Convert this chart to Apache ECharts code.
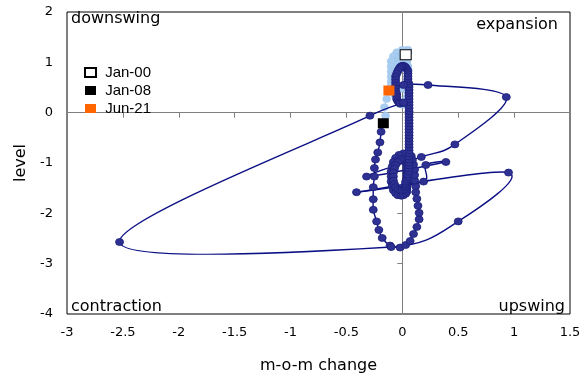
<!DOCTYPE html>
<html><head><meta charset="utf-8">
<script src="https://cdn.jsdelivr.net/npm/echarts@6/dist/echarts.min.js"></script>
<style>html,body{margin:0;padding:0;background:#fff}#c{width:587px;height:379px}</style>
</head><body><div id="c"></div>
<script>
// ---- axis ranges ----
const xMin = -3, xMax = 1.5, xStep = 0.5;
const yMin = -4, yMax = 2, yStep = 1;
const xTitle = 'm-o-m change';
const yTitle = 'level';
const quadrantLabels = ['downswing', 'expansion', 'contraction', 'upswing'];

// ---- Jan-00 .. Dec-07 (light blue) ----
const lightX = [
  0.03,0.05,0.05,0.00,-0.05,-0.08,-0.10,-0.10,-0.10,-0.10,-0.10,-0.10,
  -0.08,-0.07,-0.06,-0.05,-0.04,-0.03,-0.02,-0.01,0.00,0.01,0.02,0.03,
  0.04,0.04,0.05,0.05,0.04,0.03,0.02,0.01,0.00,-0.01,-0.01,0.00,
  0.01,0.02,0.03,0.04,0.04,0.05,0.05,0.05,0.05,0.05,0.05,0.04,
  0.04,0.04,0.04,0.03,0.02,0.01,-0.01,-0.02,-0.03,-0.03,-0.03,-0.02,
  -0.02,-0.02,-0.02,-0.01,0.00,0.01,0.02,0.02,0.02,0.02,0.02,0.02,
  0.02,0.02,0.02,0.01,0.00,-0.01,-0.02,-0.03,-0.03,-0.03,-0.03,-0.03,
  -0.03,-0.03,-0.03,-0.04,-0.05,-0.06,-0.08,-0.10,-0.12,-0.14,-0.16,-0.15
];
const lightY = [
  1.15,1.20,1.25,1.25,1.20,1.12,1.02,0.92,0.82,0.72,0.62,0.52,
  0.44,0.37,0.31,0.26,0.22,0.19,0.17,0.16,0.16,0.17,0.19,0.22,
  0.26,0.30,0.35,0.40,0.44,0.47,0.49,0.50,0.50,0.49,0.48,0.48,
  0.49,0.51,0.54,0.58,0.62,0.67,0.72,0.77,0.82,0.87,0.92,0.96,
  1.00,1.04,1.08,1.11,1.13,1.14,1.13,1.11,1.08,1.05,1.02,1.00,
  0.98,0.96,0.94,0.93,0.93,0.94,0.96,0.98,1.00,1.02,1.04,1.06,
  1.08,1.10,1.12,1.13,1.13,1.12,1.10,1.07,1.04,1.01,0.98,0.95,
  0.92,0.89,0.86,0.82,0.77,0.71,0.63,0.53,0.41,0.27,0.11,-0.06
];

// ---- Jan-08 .. Jun-21 (dark blue) ----
const darkX = [
  -0.17,-0.19,-0.20,-0.22,-0.24,-0.25,-0.25,-0.26,-0.26,-0.26,-0.23,-0.21,
  -0.18,-0.11,-0.02,0.03,0.07,0.10,0.13,0.15,0.15,0.14,0.13,0.12,
  0.12,0.11,0.11,0.11,0.10,0.09,0.08,0.05,0.01,-0.03,-0.06,-0.08,
  -0.09,-0.10,-0.10,-0.10,-0.09,-0.08,-0.06,-0.04,-0.01,0.01,0.03,0.04,
  0.04,0.04,0.04,0.04,0.04,0.04,0.04,0.04,0.04,0.04,0.04,0.04,
  0.04,0.04,0.03,0.03,0.02,0.00,-0.02,-0.04,-0.06,-0.07,-0.08,-0.08,
  -0.08,-0.07,-0.06,-0.04,-0.02,0.00,0.02,0.03,0.03,0.03,0.03,0.03,
  0.04,0.05,0.05,0.06,0.06,0.06,0.06,0.06,0.06,0.06,0.06,0.06,
  0.06,0.06,0.06,0.06,0.06,0.06,0.06,0.06,0.06,0.06,0.06,0.06,
  0.06,0.06,0.06,0.06,0.06,0.06,0.06,0.06,0.06,0.05,0.05,0.05,
  0.05,0.05,0.04,0.03,0.02,0.01,0.00,-0.01,-0.02,-0.03,-0.04,-0.05,
  -0.06,-0.06,-0.06,-0.06,-0.06,-0.06,-0.05,-0.05,-0.05,-0.04,-0.03,-0.02,
  0.01,0.01,-0.29,-2.53,-0.10,0.50,0.95,-0.41,0.19,0.21,0.39,-0.32,
  0.17,0.47,0.93,0.23,0.01,-0.12
];
const darkY = [
  -0.21,-0.38,-0.59,-0.79,-0.93,-1.10,-1.27,-1.48,-1.72,-1.93,-2.16,-2.33,
  -2.49,-2.64,-2.68,-2.63,-2.55,-2.41,-2.27,-2.12,-1.99,-1.85,-1.71,-1.58,
  -1.46,-1.35,-1.24,-1.13,-1.03,-0.94,-0.86,-0.82,-0.81,-0.84,-0.90,-0.98,
  -1.07,-1.17,-1.27,-1.37,-1.46,-1.54,-1.60,-1.64,-1.65,-1.64,-1.61,-1.57,
  -1.53,-1.49,-1.45,-1.41,-1.37,-1.33,-1.29,-1.25,-1.21,-1.17,-1.13,-1.09,
  -1.05,-1.01,-0.98,-0.95,-0.93,-0.92,-0.94,-0.98,-1.04,-1.11,-1.19,-1.27,
  -1.35,-1.42,-1.48,-1.52,-1.54,-1.54,-1.52,-1.49,-1.46,-1.43,-1.40,-1.37,
  -1.33,-1.28,-1.23,-1.17,-1.11,-1.05,-0.99,-0.93,-0.87,-0.81,-0.75,-0.69,
  -0.63,-0.57,-0.51,-0.45,-0.39,-0.33,-0.27,-0.21,-0.15,-0.09,-0.03,0.03,
  0.09,0.15,0.21,0.27,0.33,0.39,0.45,0.51,0.57,0.62,0.67,0.72,
  0.78,0.83,0.87,0.90,0.92,0.93,0.93,0.92,0.90,0.87,0.83,0.78,
  0.72,0.66,0.60,0.54,0.48,0.42,0.37,0.32,0.27,0.23,0.20,0.18,
  0.19,0.20,-0.06,-2.57,-2.67,-2.16,-1.19,-1.58,-1.37,-1.04,-0.98,-1.27,
  -0.88,-0.63,0.31,0.55,0.55,0.44
];

// ---- highlighted months ----
const markNames = ['Jan-00', 'Jan-08', 'Jun-21'];
const markX = [0.03, -0.17, -0.12];
const markY = [1.15, -0.21, 0.44];
const markFill = ['#ffffff', '#000000', '#ff6600'];

const pairs = (xs, ys) => xs.map((v, i) => [v, ys[i]]);

// Smoothed connecting line (spreadsheet-style Bezier), positions via the chart's own scales (api.coord)
function smoothLine(name, xs, ys, color, width, z) {
  const n = xs.length;
  return {
    name, type: 'custom', z, silent: true, clip: true,
    data: pairs(xs, ys), encode: {x: 0, y: 1},
    renderItem: (params, api) => {
      const i = params.dataIndex;
      if (i >= n - 1) return null;
      const P = j => { const k = Math.max(0, Math.min(n - 1, j)); return api.coord([xs[k], ys[k]]); };
      const p0 = P(i - 1), p1 = P(i), p2 = P(i + 1), p3 = P(i + 2);
      const d12 = Math.hypot(p2[0] - p1[0], p2[1] - p1[1]);
      const a = [p2[0] - p0[0], p2[1] - p0[1]], la = Math.hypot(a[0], a[1]);
      const b = [p3[0] - p1[0], p3[1] - p1[1]], lb = Math.hypot(b[0], b[1]);
      const fa = la / 6 > d12 / 2 ? d12 / 2 / la : 1 / 6;
      const fb = lb / 6 > d12 / 2 ? d12 / 2 / lb : 1 / 6;
      return {
        type: 'bezierCurve',
        shape: {x1: p1[0], y1: p1[1], x2: p2[0], y2: p2[1],
                cpx1: p1[0] + a[0] * fa, cpy1: p1[1] + a[1] * fa,
                cpx2: p2[0] - b[0] * fb, cpy2: p2[1] - b[1] * fb},
        style: {stroke: color, lineWidth: width, fill: null}
      };
    }
  };
}

const chart = echarts.init(document.getElementById('c'), null, {renderer: 'canvas'});
const tickFont = {fontFamily: 'DejaVu Sans', fontSize: 13, color: '#000'};

const markSeries = markNames.map((n, i) => ({
  name: n, type: 'scatter', symbol: 'rect', symbolSize: [11, 10], z: 6,
  itemStyle: {color: markFill[i], borderColor: i === 0 ? '#000' : markFill[i], borderWidth: i === 0 ? 1 : 0, opacity: 1},
  data: [[markX[i], markY[i]]]
}));

chart.setOption({
  animation: false,
  backgroundColor: '#fff',
  grid: {left: 67, top: 12, right: 17, bottom: 57, show: true, borderColor: '#000', borderWidth: 1, backgroundColor: 'transparent'},
  legend: {
    data: markNames, orient: 'vertical', left: 79, top: 60, itemWidth: 11, itemHeight: 9, itemGap: 3,
    formatter: n => ' ' + n,
    textStyle: {fontFamily: 'Liberation Sans', fontSize: 15, color: '#000'}
  },
  xAxis: [
    {type: 'value', min: xMin, max: xMax, interval: xStep, position: 'bottom',
     axisLine: {show: false, onZero: false}, axisTick: {show: false}, splitLine: {show: false},
     axisLabel: Object.assign({margin: 12}, tickFont),
     name: xTitle, nameLocation: 'middle', nameGap: 44,
     nameTextStyle: {fontFamily: 'DejaVu Sans', fontSize: 16, color: '#000'}},
    {type: 'value', min: xMin, max: xMax, interval: xStep, position: 'bottom',
     axisLine: {show: true, onZero: true, lineStyle: {color: '#808080', width: 1}},
     axisTick: {show: true, length: 5, lineStyle: {color: '#808080'}},
     axisLabel: {show: false}, splitLine: {show: false}}
  ],
  yAxis: [
    {type: 'value', min: yMin, max: yMax, interval: yStep, position: 'left',
     axisLine: {show: false, onZero: false}, axisTick: {show: false}, splitLine: {show: false},
     axisLabel: Object.assign({margin: 14}, tickFont),
     name: yTitle, nameLocation: 'middle', nameGap: 34, nameRotate: 90,
     nameTextStyle: {fontFamily: 'DejaVu Sans', fontSize: 16, color: '#000'}},
    {type: 'value', min: yMin, max: yMax, interval: yStep, position: 'left',
     axisLine: {show: true, onZero: true, lineStyle: {color: '#808080', width: 1}},
     axisTick: {show: true, length: 5, lineStyle: {color: '#808080'}},
     axisLabel: {show: false}, splitLine: {show: false}}
  ],
  graphic: [
    {type: 'text', x: 71, y: 19, style: {text: quadrantLabels[0], font: '16px "DejaVu Sans"', fill: '#000', textAlign: 'left', textVerticalAlign: 'middle', align: 'left', verticalAlign: 'middle'}},
    {type: 'text', x: 558, y: 25, style: {text: quadrantLabels[1], font: '16px "DejaVu Sans"', fill: '#000', textAlign: 'right', textVerticalAlign: 'middle', align: 'right', verticalAlign: 'middle'}},
    {type: 'text', x: 71, y: 307, style: {text: quadrantLabels[2], font: '16px "DejaVu Sans"', fill: '#000', textAlign: 'left', textVerticalAlign: 'middle', align: 'left', verticalAlign: 'middle'}},
    {type: 'text', x: 565, y: 307, style: {text: quadrantLabels[3], font: '16px "DejaVu Sans"', fill: '#000', textAlign: 'right', textVerticalAlign: 'middle', align: 'right', verticalAlign: 'middle'}}
  ],
  series: [
    smoothLine('2000-2007 line', lightX, lightY, '#a9cdf0', 1, 1),
    {name: '2000-2007', type: 'scatter', z: 2, symbol: 'circle', symbolSize: [8, 7],
     itemStyle: {color: '#a9cdf0', borderColor: '#9cc4ec', borderWidth: 0.5, opacity: 1},
     data: pairs(lightX, lightY)},
    smoothLine('2008-2021 line', darkX, darkY, '#0b0f84', 1.4, 3),
    {name: '2008-2021', type: 'scatter', z: 4, symbol: 'circle', symbolSize: [8, 7],
     itemStyle: {color: '#2e3192', borderColor: '#1b1f7a', borderWidth: 0.8, opacity: 1},
     data: pairs(darkX, darkY)},
    ...markSeries
  ]
});
</script></body></html>
